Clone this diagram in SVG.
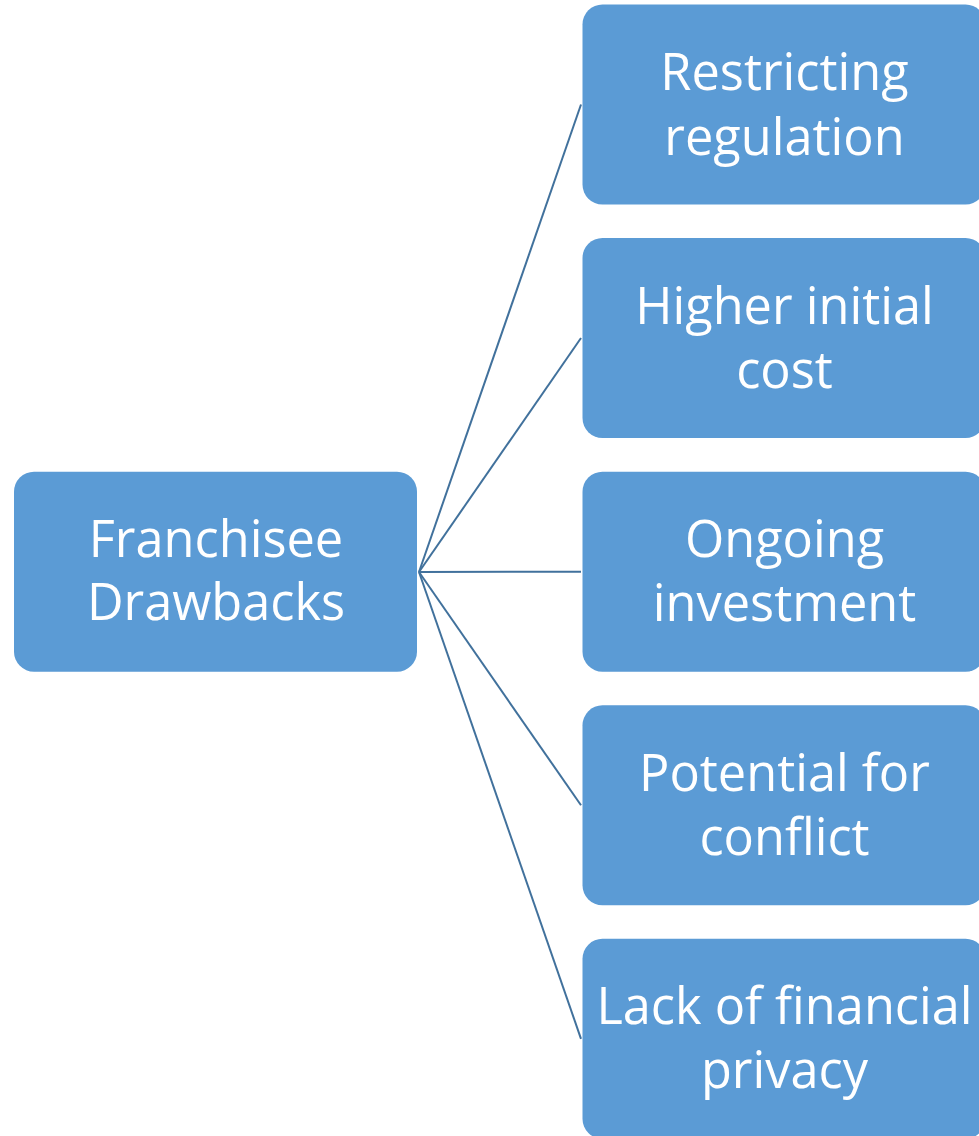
<svg xmlns="http://www.w3.org/2000/svg" width="979" height="1136" viewBox="0 0 979 1136">
<style>
.box{fill:#5B9BD5;}
.lbl{font-family:"Open Sans","Liberation Sans",sans-serif;font-size:50.5px;fill:#FFFFFF;text-anchor:middle;}
.conn line{stroke:#41719C;stroke-width:2;fill:none;}
</style>
<rect width="979" height="1136" fill="#FFFFFF"/>
<g id="connectors" class="conn">
<line x1="419" y1="572" x2="581" y2="104.5"/>
<line x1="419" y1="572" x2="581" y2="338"/>
<line x1="419" y1="572" x2="581" y2="571.7"/>
<line x1="419" y1="572" x2="581" y2="805.3"/>
<line x1="419" y1="572" x2="581" y2="1038.8"/>
</g>
<g id="root">
<rect class="box" x="14" y="471.7" width="403" height="200" rx="20"/>
<text class="lbl" x="216" y="557">Franchisee</text>
<text class="lbl" x="216" y="620">Drawbacks</text>
</g>
<g id="n1">
<rect class="box" x="582.5" y="4.5" width="403" height="200" rx="20"/>
<text class="lbl" x="784.5" y="90">Restricting</text>
<text class="lbl" x="784.5" y="155">regulation</text>
</g>
<g id="n2">
<rect class="box" x="582.5" y="238" width="403" height="200" rx="20"/>
<text class="lbl" x="784.5" y="324">Higher initial</text>
<text class="lbl" x="784.5" y="388">cost</text>
</g>
<g id="n3">
<rect class="box" x="582.5" y="471.7" width="403" height="200" rx="20"/>
<text class="lbl" x="784.5" y="557">Ongoing</text>
<text class="lbl" x="784.5" y="621">investment</text>
</g>
<g id="n4">
<rect class="box" x="582.5" y="705.3" width="403" height="200" rx="20"/>
<text class="lbl" x="784.5" y="791">Potential for</text>
<text class="lbl" x="784.5" y="855">conflict</text>
</g>
<g id="n5">
<rect class="box" x="582.5" y="938.8" width="403" height="200" rx="20"/>
<text class="lbl" x="784.5" y="1024">Lack of financial</text>
<text class="lbl" x="784.5" y="1088">privacy</text>
</g>
</svg>
